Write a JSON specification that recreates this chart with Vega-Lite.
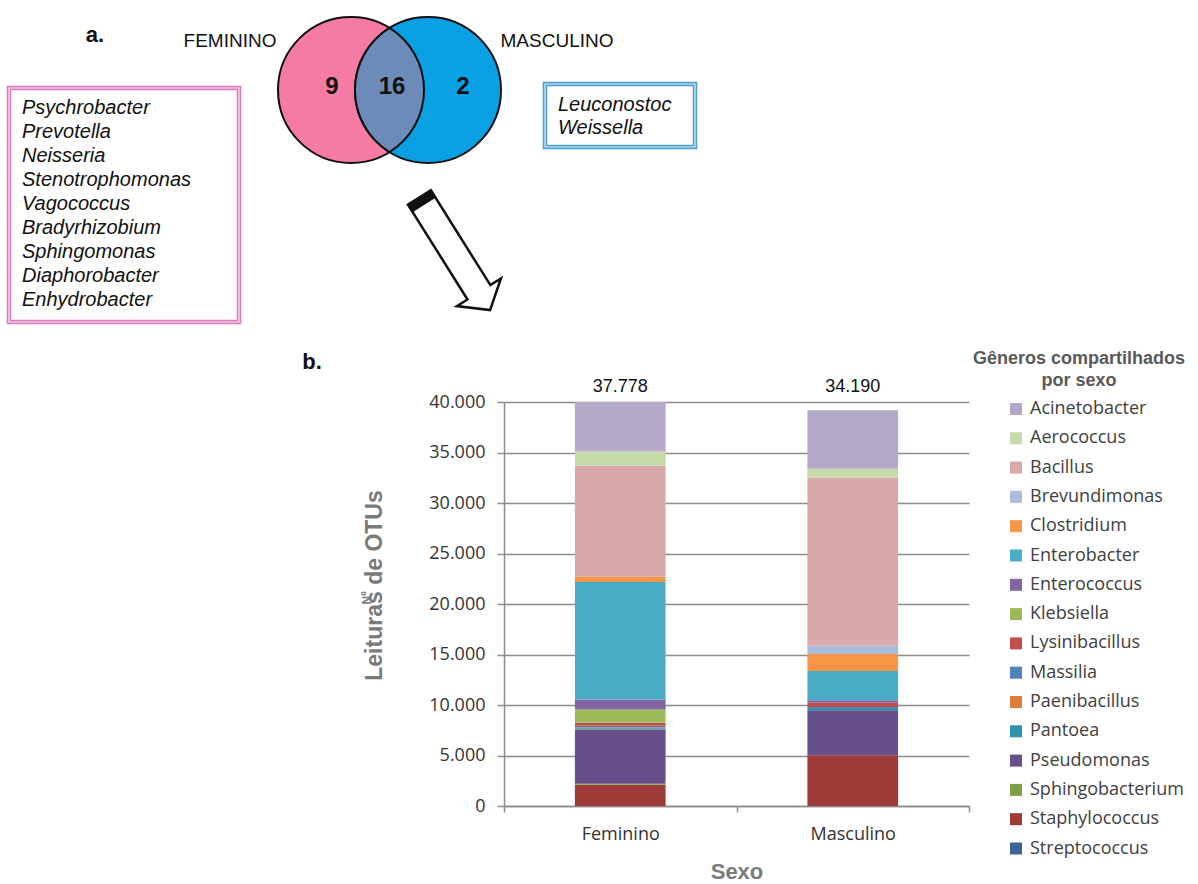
{
  "$schema": "https://vega.github.io/schema/vega-lite/v6.json",
  "width": 465,
  "height": 404,
  "autosize": {"type": "none"},
  "padding": {"left": 504, "top": 402, "right": 229, "bottom": 78},
  "background": "#ffffff",
  "config": {"view": {"stroke": null}, "font": "Liberation Sans"},
  "datasets": {
    "leituras": [
      {"Sexo": "Feminino", "Genero": "Streptococcus", "Leituras": 0},
      {"Sexo": "Feminino", "Genero": "Staphylococcus", "Leituras": 2100},
      {"Sexo": "Feminino", "Genero": "Sphingobacterium", "Leituras": 100},
      {"Sexo": "Feminino", "Genero": "Pseudomonas", "Leituras": 5350},
      {"Sexo": "Feminino", "Genero": "Pantoea", "Leituras": 150},
      {"Sexo": "Feminino", "Genero": "Paenibacillus", "Leituras": 100},
      {"Sexo": "Feminino", "Genero": "Massilia", "Leituras": 150},
      {"Sexo": "Feminino", "Genero": "Lysinibacillus", "Leituras": 300},
      {"Sexo": "Feminino", "Genero": "Klebsiella", "Leituras": 1300},
      {"Sexo": "Feminino", "Genero": "Enterococcus", "Leituras": 1000},
      {"Sexo": "Feminino", "Genero": "Enterobacter", "Leituras": 11630},
      {"Sexo": "Feminino", "Genero": "Clostridium", "Leituras": 530},
      {"Sexo": "Feminino", "Genero": "Brevundimonas", "Leituras": 0},
      {"Sexo": "Feminino", "Genero": "Bacillus", "Leituras": 10980},
      {"Sexo": "Feminino", "Genero": "Aerococcus", "Leituras": 1420},
      {"Sexo": "Feminino", "Genero": "Acinetobacter", "Leituras": 4890},
      {"Sexo": "Masculino", "Genero": "Streptococcus", "Leituras": 0},
      {"Sexo": "Masculino", "Genero": "Staphylococcus", "Leituras": 5025},
      {"Sexo": "Masculino", "Genero": "Sphingobacterium", "Leituras": 0},
      {"Sexo": "Masculino", "Genero": "Pseudomonas", "Leituras": 4460},
      {"Sexo": "Masculino", "Genero": "Pantoea", "Leituras": 215},
      {"Sexo": "Masculino", "Genero": "Paenibacillus", "Leituras": 0},
      {"Sexo": "Masculino", "Genero": "Massilia", "Leituras": 100},
      {"Sexo": "Masculino", "Genero": "Lysinibacillus", "Leituras": 420},
      {"Sexo": "Masculino", "Genero": "Klebsiella", "Leituras": 0},
      {"Sexo": "Masculino", "Genero": "Enterococcus", "Leituras": 260},
      {"Sexo": "Masculino", "Genero": "Enterobacter", "Leituras": 2880},
      {"Sexo": "Masculino", "Genero": "Clostridium", "Leituras": 1680},
      {"Sexo": "Masculino", "Genero": "Brevundimonas", "Leituras": 830},
      {"Sexo": "Masculino", "Genero": "Bacillus", "Leituras": 16660},
      {"Sexo": "Masculino", "Genero": "Aerococcus", "Leituras": 860},
      {"Sexo": "Masculino", "Genero": "Acinetobacter", "Leituras": 5790}
    ],
    "totais": [
      {"Sexo": "Feminino", "Total": "37.778"},
      {"Sexo": "Masculino", "Total": "34.190"}
    ],
    "venn": [
      {"conjunto": "FEMININO", "x": 351, "y": 90},
      {"conjunto": "MASCULINO", "x": 428, "y": 90}
    ],
    "intersecao": [{"conjunto": "Ambos", "x": 389.5, "y": 90}],
    "contagens": [
      {"n": "9", "x": 332, "y": 87},
      {"n": "16", "x": 392, "y": 87},
      {"n": "2", "x": 463, "y": 87}
    ],
    "rotulos": [
      {"t": "FEMININO", "x": 230, "y": 41},
      {"t": "MASCULINO", "x": 557, "y": 41}
    ],
    "paineis": [
      {"t": "a.", "x": 95, "y": 35},
      {"t": "b.", "x": 312, "y": 362}
    ],
    "caixaF": [{"x": 9, "x2": 239, "y": 88, "y2": 322}],
    "caixaM": [{"x": 545, "x2": 695, "y": 84, "y2": 147}],
    "generosF": [
      {"g": "Psychrobacter", "x": 22, "y": 108},
      {"g": "Prevotella", "x": 22, "y": 132},
      {"g": "Neisseria", "x": 22, "y": 156},
      {"g": "Stenotrophomonas", "x": 22, "y": 180},
      {"g": "Vagococcus", "x": 22, "y": 204},
      {"g": "Bradyrhizobium", "x": 22, "y": 228},
      {"g": "Sphingomonas", "x": 22, "y": 252},
      {"g": "Diaphorobacter", "x": 22, "y": 276},
      {"g": "Enhydrobacter", "x": 22, "y": 300}
    ],
    "generosM": [
      {"g": "Leuconostoc", "x": 558, "y": 105},
      {"g": "Weissella", "x": 558, "y": 128}
    ],
    "seta": [{"x": 454.75, "y": 253.75}],
    "nota": [{"t": "Nº", "x": 367, "y": 598}]
  },
  "layer": [
    {
      "layer": [
        {
          "data": {"name": "leituras"},
          "mark": {"type": "bar", "width": {"band": 0.39}},
          "encoding": {
            "x": {
              "field": "Sexo", "type": "nominal", "sort": ["Feminino", "Masculino"],
              "scale": {"paddingInner": 0, "paddingOuter": 0},
              "axis": {
                "title": "Sexo", "titleFont": "Liberation Sans", "titleFontSize": 22, "titleFontWeight": "bold",
                "titleColor": "#7a7a7a", "titlePadding": 18,
                "labelFont": "Open Sans", "labelFontSize": 18, "labelColor": "#333333", "labelAngle": 0, "labelPadding": 13,
                "tickBand": "extent", "tickSize": 6, "tickColor": "#8c8c8c", "tickWidth": 1.5,
                "domainColor": "#8c8c8c", "domainWidth": 1.5, "grid": false
              }
            },
            "y": {
              "field": "Leituras", "type": "quantitative", "stack": "zero",
              "scale": {"domain": [0, 40000], "nice": false},
              "axis": {
                "title": "Leituras de OTUs", "titleFont": "Liberation Sans", "titleFontSize": 23, "titleFontWeight": "bold",
                "titleColor": "#7a7a7a", "titlePadding": 42, "titleY": 183,
                "values": [0, 5000, 10000, 15000, 20000, 25000, 30000, 35000, 40000],
                "labelExpr": "replace(format(datum.value, ','), ',', '.')",
                "labelFont": "Open Sans", "labelFontSize": 18, "labelColor": "#333333", "labelPadding": 12,
                "tickSize": 7, "tickColor": "#8c8c8c", "tickWidth": 1.5,
                "domainColor": "#8c8c8c", "domainWidth": 1.5,
                "grid": true, "gridColor": "#8c8c8c", "gridWidth": 1.5
              }
            },
            "color": {
              "field": "Genero", "type": "nominal",
              "scale": {
                "domain": ["Acinetobacter", "Aerococcus", "Bacillus", "Brevundimonas", "Clostridium", "Enterobacter", "Enterococcus", "Klebsiella", "Lysinibacillus", "Massilia", "Paenibacillus", "Pantoea", "Pseudomonas", "Sphingobacterium", "Staphylococcus", "Streptococcus"],
                "range": ["#B4A9C9", "#C6D9A8", "#D9A8A9", "#A9BDDB", "#F79646", "#4BACC6", "#8064A2", "#9BBB59", "#C0504D", "#4F81BD", "#DE7E3A", "#3092AC", "#674F8A", "#7E9F47", "#9E3B39", "#3B6596"]
              },
              "legend": {
                "title": ["Gêneros compartilhados", "por sexo"],
                "orient": "none", "legendX": 469, "legendY": -52,
                "titleFont": "Liberation Sans", "titleFontSize": 18, "titleFontWeight": "bold", "titleColor": "#595959",
                "titleAnchor": "middle", "titleAlign": "center", "titleLineHeight": 22, "titlePadding": 10, "titleLimit": 400,
                "symbolType": "square", "symbolSize": 144, "symbolStrokeWidth": 0, "symbolOffset": 33, "symbolOpacity": 1,
                "labelFont": "Open Sans", "labelFontSize": 18, "labelColor": "#404040", "labelOffset": 5, "labelLimit": 300,
                "rowPadding": 11.3
              }
            },
            "order": {"field": "Genero", "sort": "descending"}
          }
        },
        {
          "data": {"name": "totais"},
          "mark": {"type": "text", "dy": -15, "fontSize": 18, "font": "Liberation Sans", "color": "#111111", "baseline": "middle"},
          "encoding": {
            "x": {"field": "Sexo", "type": "nominal", "sort": ["Feminino", "Masculino"]},
            "y": {"datum": 40000, "type": "quantitative"},
            "text": {"field": "Total"}
          }
        }
      ]
    },
    {
      "encoding": {
        "x": {"field": "x", "type": "quantitative", "scale": {"domain": [504, 969], "nice": false, "zero": false}, "axis": null},
        "y": {"field": "y", "type": "quantitative", "scale": {"domain": [402, 806], "nice": false, "zero": false, "reverse": true}, "axis": null}
      },
      "layer": [
        {
          "data": {"name": "venn"},
          "mark": {"type": "point", "shape": "circle", "filled": true, "size": 21316, "stroke": "#111111", "strokeWidth": 2, "opacity": 1},
          "encoding": {
            "fill": {"field": "conjunto", "type": "nominal", "scale": {"domain": ["FEMININO", "MASCULINO"], "range": ["#F67BA4", "#0AA0E4"]}, "legend": null}
          }
        },
        {
          "data": {"name": "intersecao"},
          "mark": {"type": "point", "shape": "M0,-0.85A1,1,0,0,1,0,0.85A1,1,0,0,1,0,-0.85Z", "filled": true, "size": 21316, "fill": "#6D8BB8", "stroke": "#111111", "strokeWidth": 2, "opacity": 1}
        },
        {
          "data": {"name": "contagens"},
          "mark": {"type": "text", "font": "Liberation Sans", "fontSize": 24, "fontWeight": "bold", "color": "#111111", "baseline": "middle", "align": "center"},
          "encoding": {"text": {"field": "n"}}
        },
        {
          "data": {"name": "rotulos"},
          "mark": {"type": "text", "font": "Liberation Sans", "fontSize": 19, "color": "#111111", "baseline": "middle", "align": "center"},
          "encoding": {"text": {"field": "t"}}
        },
        {
          "data": {"name": "paineis"},
          "mark": {"type": "text", "font": "Liberation Sans", "fontSize": 22, "fontWeight": "bold", "color": "#111111", "baseline": "middle", "align": "center"},
          "encoding": {"text": {"field": "t"}}
        },
        {
          "data": {"name": "caixaF"},
          "mark": {"type": "rect", "fill": "#ffffff", "stroke": "#DF7CBF", "strokeWidth": 4.5},
          "encoding": {"x2": {"field": "x2"}, "y2": {"field": "y2"}}
        },
        {
          "data": {"name": "caixaF"},
          "mark": {"type": "rect", "fill": null, "stroke": "#FBE6F2", "strokeWidth": 1.2},
          "encoding": {"x2": {"field": "x2"}, "y2": {"field": "y2"}}
        },
        {
          "data": {"name": "caixaM"},
          "mark": {"type": "rect", "fill": "#ffffff", "stroke": "#4E9ECE", "strokeWidth": 4.5},
          "encoding": {"x2": {"field": "x2"}, "y2": {"field": "y2"}}
        },
        {
          "data": {"name": "caixaM"},
          "mark": {"type": "rect", "fill": null, "stroke": "#E2F1F9", "strokeWidth": 1.2},
          "encoding": {"x2": {"field": "x2"}, "y2": {"field": "y2"}}
        },
        {
          "data": {"name": "generosF"},
          "mark": {"type": "text", "font": "Liberation Sans", "fontSize": 20, "fontStyle": "italic", "color": "#111111", "baseline": "middle", "align": "left"},
          "encoding": {"text": {"field": "g"}}
        },
        {
          "data": {"name": "generosM"},
          "mark": {"type": "text", "font": "Liberation Sans", "fontSize": 20, "fontStyle": "italic", "color": "#111111", "baseline": "middle", "align": "left"},
          "encoding": {"text": {"field": "g"}}
        },
        {
          "data": {"name": "seta"},
          "mark": {"type": "point", "shape": "M-0.95,-0.193L0.65,-0.193L0.65,-0.371L0.95,0L0.65,0.371L0.65,0.193L-0.95,0.193Z", "filled": true, "size": 19600, "angle": 57.9, "fill": "#ffffff", "stroke": "#111111", "strokeWidth": 2.5, "opacity": 1}
        },
        {
          "data": {"name": "seta"},
          "mark": {"type": "point", "shape": "M-0.95,-0.193L-0.83,-0.193L-0.83,0.193L-0.95,0.193Z", "filled": true, "size": 19600, "angle": 57.9, "fill": "#111111", "stroke": "#111111", "strokeWidth": 1, "opacity": 1}
        },
        {
          "data": {"name": "nota"},
          "mark": {"type": "text", "font": "Liberation Sans", "fontSize": 12, "fontWeight": "bold", "color": "#7a7a7a", "angle": 270, "baseline": "middle", "align": "center"},
          "encoding": {"text": {"field": "t"}}
        }
      ]
    }
  ],
  "resolve": {"scale": {"x": "independent", "y": "independent", "fill": "independent"}}
}
